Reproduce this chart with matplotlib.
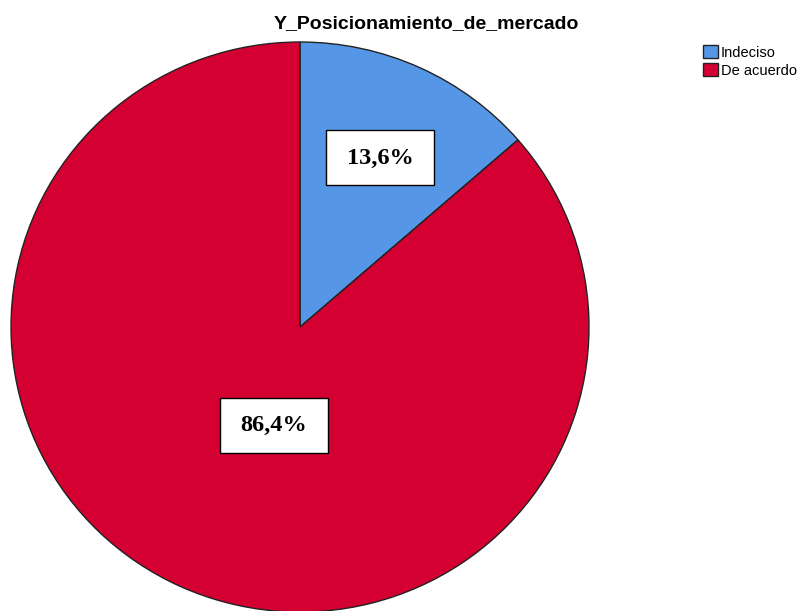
import matplotlib.pyplot as plt
from matplotlib.patches import Rectangle, Patch

categorias = ['Indeciso', 'De acuerdo']
porcentajes = [13.6, 86.4]
etiquetas = ['13,6%', '86,4%']
colores = ['#5597E6', '#D50032']

fig = plt.figure(figsize=(7.99, 6.11), dpi=100)
# ejes en pixeles: pastel de x 11..589, y 42..612
W, H = 799, 611
ax = fig.add_axes([11 / W, (H - 612) / H, 578 / W, 570 / H])

wedges, _ = ax.pie(porcentajes, colors=colores, startangle=90, counterclock=False,
                   wedgeprops=dict(edgecolor='#222222', linewidth=1))
ax.set_aspect('auto')
ax.set_xlim(-1, 1)
ax.set_ylim(-1, 1)
ax.axis('off')

# posiciones de las etiquetas (como en SPSS)
pos = [(0.277, 0.593), (-0.09, -0.347)]
bw, bh = 108 / 289, 55 / 285
for (x, y), txt in zip(pos, etiquetas):
    ax.add_patch(Rectangle((x - bw / 2, y - bh / 2), bw, bh, facecolor='white',
                           edgecolor='black', linewidth=1, zorder=3))
    ax.text(x, y, txt, ha='center', va='center', fontsize=17.5, fontweight='bold',
            family='Liberation Serif', zorder=4)

fig.text(426 / W, (H - 24) / H, 'Y_Posicionamiento_de_mercado', ha='center', va='center',
         fontsize=14, fontweight='bold', family='Liberation Sans')

handles = [Patch(facecolor=c, edgecolor='#222222', linewidth=1) for c in colores]
fig.legend(handles, categorias, loc='upper left', bbox_to_anchor=(693 / W, (H - 35) / H),
           frameon=False, handlelength=1.0, handleheight=1.0,
           handletextpad=0.2, labelspacing=0.25, borderpad=0.2,
           prop={'family': 'Liberation Sans', 'size': 10.5})

fig.savefig('out.png', dpi=100)
